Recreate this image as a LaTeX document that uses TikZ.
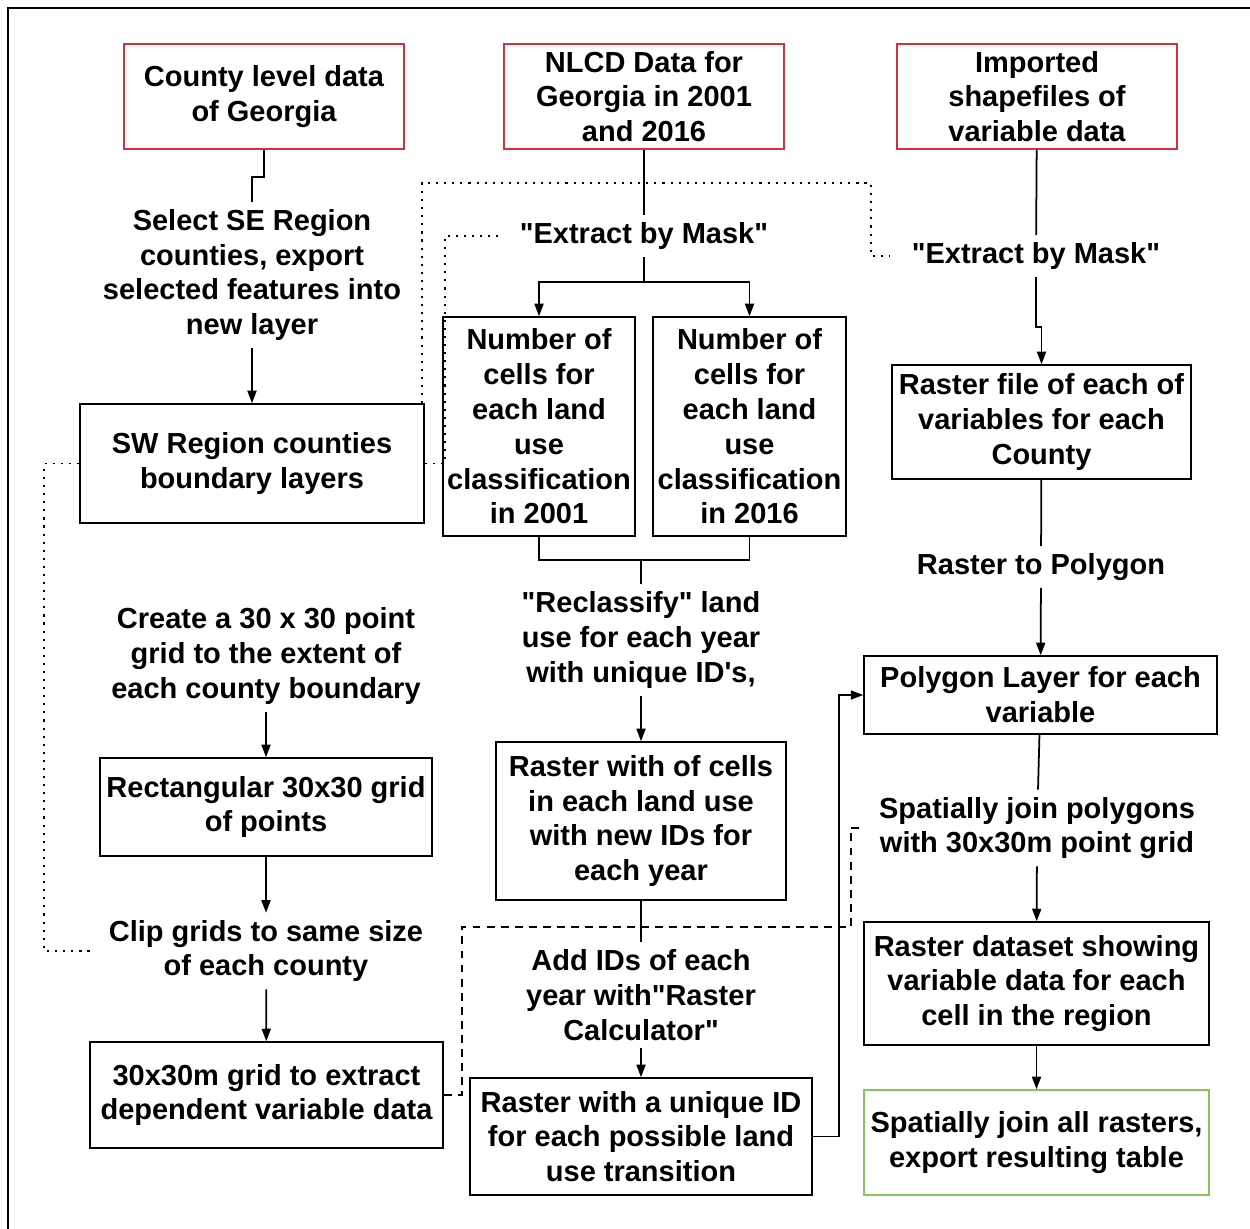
\documentclass[tikz,border=0pt]{standalone}
\usepackage{fontspec}
\setmainfont{Liberation Sans}[Ligatures=TeXOff]
\usetikzlibrary{arrows.meta}
\definecolor{srcred}{RGB}{214,48,58}
\definecolor{endgreen}{RGB}{132,198,92}

\begin{document}
\begin{tikzpicture}[x=0.02cm, y=-0.02cm,
	>={Triangle[length=0.25cm,width=0.18cm]},
	every node/.style={font=\fontsize{16.5}{19.8}\selectfont\bfseries, align=center},
	box/.style={draw, line width=0.9pt, inner sep=1pt},
	srcbox/.style={box, draw=srcred},
	endbox/.style={box, draw=endgreen},
	steptxt/.style={inner sep=4pt},
	flow/.style={line width=1pt},
	dotline/.style={flow, dash pattern=on 1.2pt off 3.4pt},
	dashline/.style={flow, dash pattern=on 4.5pt off 3.5pt}]
				\useasboundingbox (0,0) rectangle (1250,1228);
				\clip (0,0) rectangle (1250,1228);

				% Frame
				\draw[line width=1.4pt] (8,8) rectangle (1262,1242);

				% Source data
				\node[srcbox, minimum width=5.6cm, minimum height=2.1cm] (county) at (264,96.5) {County level data\\of Georgia};
				\node[srcbox, minimum width=5.6cm, minimum height=2.1cm] (nlcd) at (644,96.5) {NLCD Data for\\Georgia in 2001\\and 2016};
				\node[srcbox, minimum width=5.6cm, minimum height=2.1cm] (imported) at (1037,96.5) {Imported\\shapefiles of\\variable data};

				% Left column
				\node[steptxt] (selectse) at (252,275) {Select SE Region\\counties, export\\selected features into\\new layer};
				\node[box, minimum width=6.88cm, minimum height=2.38cm] (swbox) at (252,463.5) {SW Region counties\\boundary layers};
				\node[steptxt] (create) at (266,656) {Create a 30 x 30 point\\grid to the extent of\\each county boundary};
				\node[box, minimum width=6.64cm, minimum height=1.96cm] (rectgrid) at (266,807) {Rectangular 30x30 grid\\of points};
				\node[steptxt] (clip) at (266,951) {Clip grids to same size\\of each county};
				\node[box, minimum width=7.06cm, minimum height=2.12cm] (gridextract) at (266.5,1095) {30x30m grid to extract\\dependent variable data};

				% Middle column
				\node[steptxt] (extract1) at (644,236) {"Extract by Mask"};
				\node[box, minimum width=3.84cm, minimum height=4.38cm] (cells01) at (539,426.5) {Number of\\cells for\\each land\\use\\classification\\in 2001};
				\node[box, minimum width=3.86cm, minimum height=4.38cm] (cells16) at (749.5,426.5) {Number of\\cells for\\each land\\use\\classification\\in 2016};
				\node[steptxt] (reclass) at (641,640) {"Reclassify" land\\use for each year\\with unique ID's,};
				\node[box, minimum width=5.8cm, minimum height=3.16cm] (rastercells) at (641,821) {Raster with of cells\\in each land use\\with new IDs for\\each year};
				\node[steptxt] (addids) at (641,995) {Add IDs of each\\year with"Raster\\Calculator"};
				\node[box, minimum width=6.84cm, minimum height=2.34cm] (uniqueid) at (641,1136.5) {Raster with a unique ID\\for each possible land\\use transition};
				\coordinate (split) at (644,282);
				\coordinate (merge) at (641,560);

				% Right column
				\node[steptxt] (extract2) at (1036,256) {"Extract by Mask"};
				\node[box, minimum width=5.98cm, minimum height=2.28cm] (rasterfile) at (1041.5,422) {Raster file of each of\\variables for each\\County};
				\node[steptxt] (rast2poly) at (1041,567) {Raster to Polygon};
				\node[box, minimum width=7.06cm, minimum height=1.56cm] (polygon) at (1040.5,695) {Polygon Layer for each\\variable};
				\node[steptxt] (spjoin) at (1037,828) {Spatially join polygons\\with 30x30m point grid};
				\node[box, minimum width=6.9cm, minimum height=2.46cm] (rasterdata) at (1036.5,983.5) {Raster dataset showing\\variable data for each\\cell in the region};
				\node[endbox, minimum width=6.9cm, minimum height=2.1cm] (joinall) at (1036.5,1142.5) {Spatially join all rasters,\\export resulting table};

				% Left flow
				\draw[flow] (county.south) -- ++(0,27) -| (selectse.north);
				\draw[->, flow] (selectse) -- (swbox);
				\draw[->, flow] (create) -- (rectgrid);
				\draw[->, flow] (rectgrid) -- (clip);
				\draw[->, flow] (clip) -- (gridextract);

				% Middle flow
				\draw[flow] (nlcd) -- (extract1);
				\draw[flow] (extract1) -- (split);
				\draw[->, flow] (split) -| (cells01);
				\draw[->, flow] (split) -| (cells16);
				\draw[flow] (cells01) |- (merge);
				\draw[flow] (cells16) |- (merge);
				\draw[flow] (merge) -- (reclass);
				\draw[->, flow] (reclass) -- (rastercells);
				\draw[flow] (rastercells) -- (addids);
				\draw[->, flow] (addids) -- (uniqueid);
				\draw[->, flow] (uniqueid.east) -- ++(26,0) |- (polygon.west);

				% Right flow
				\draw[flow] (imported) -- (extract2);
				\draw[->, flow] (extract2.south) -- ++(0,50) -| (rasterfile.north);
				\draw[flow] (rasterfile) -- (rast2poly);
				\draw[->, flow] (rast2poly) -- (polygon);
				\draw[flow] (polygon) -- (spjoin);
				\draw[->, flow] (spjoin) -- (rasterdata);
				\draw[->, flow] (rasterdata) -- (joinall);

				% Mask and join inputs
				\draw[dotline] (swbox.west) -- ++(-35,0) |- ([xshift=-0.18cm]clip.west);
				\draw[dotline] ([xshift=-0.06cm]swbox.north east) -- ++(0,-220) -- ++(449,0) |- ([xshift=-0.3cm]extract2.west);
				\draw[dotline] (swbox.east) -- ++(20,0) |- ([xshift=-0.25cm]extract1.west);
				\draw[dashline] (gridextract.east) -- ++(18,0) -- ++(0,-168) -- ++(389,0) |- ([xshift=-0.15cm]spjoin.west);
			\end{tikzpicture}
\end{document}
